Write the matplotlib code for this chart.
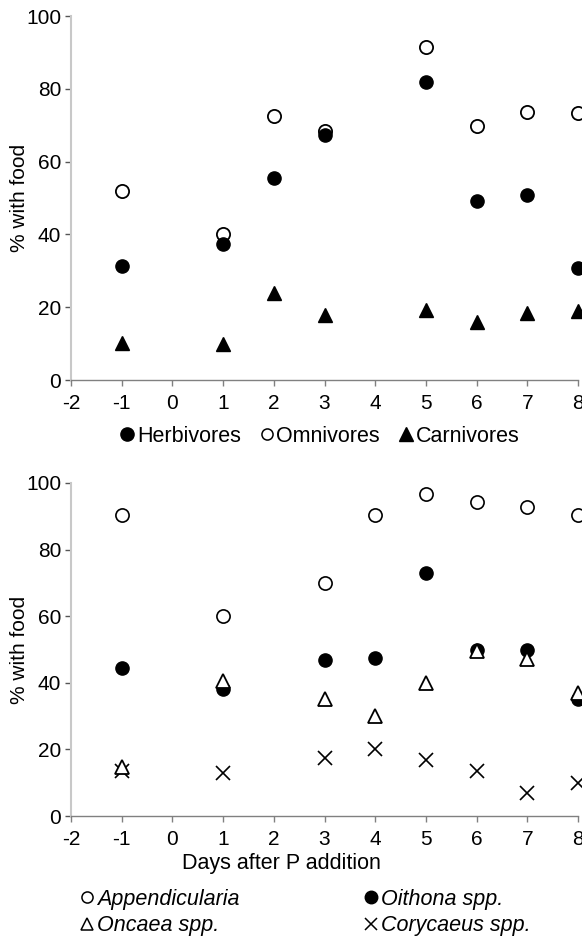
import numpy as np
import matplotlib
matplotlib.use("Agg")
import matplotlib.pyplot as plt
from matplotlib.lines import Line2D

plt.rcParams['font.family'] = ['Liberation Sans', 'DejaVu Sans']
plt.rcParams['font.size'] = 14
plt.rcParams['axes.unicode_minus'] = False

# Top panel: feeding groups
days_top = [-1, 1, 2, 3, 5, 6, 7, 8]
herbivores = [31.4, 37.5, 55.6, 67.3, 82.0, 49.2, 50.9, 30.7]
omnivores = [52.0, 40.1, 72.5, 68.4, 91.4, 69.7, 73.6, 73.3]
carnivores = [10.3, 9.8, 24.0, 17.9, 19.2, 16.0, 18.3, 19.0]

# Bottom panel: taxa
days_bot = [-1, 1, 3, 4, 5, 6, 7, 8]
appendicularia = [90.4, 60.2, 70.1, 90.4, 96.8, 94.2, 92.7, 90.4]
oithona = [44.3, 38.0, 46.7, 47.5, 72.9, 50.0, 50.0, 35.0]
oncaea = [14.7, 40.5, 35.1, 30.1, 40.0, 49.5, 47.0, 37.0]
corycaeus = [13.4, 12.9, 17.4, 20.1, 16.9, 13.4, 6.8, 9.8]

x_ticks = list(range(-2, 9))
y_ticks = [0, 20, 40, 60, 80, 100]

W, H = 582, 936
fig = plt.figure(figsize=(W / 100, H / 100), dpi=100)

ax1 = fig.add_axes([71 / W, 1 - 380 / H, 507 / W, 364 / H])
ax2 = fig.add_axes([71 / W, 1 - 816 / H, 507 / W, 333 / H])


def style_axes(ax):
    """Excel-like axes: grey left/bottom lines only, outward ticks"""
    ax.set_xlim(-2, 8)
    ax.set_ylim(0, 100)
    ax.set_xticks(x_ticks)
    ax.set_yticks(y_ticks)
    for side in ['top', 'right']:
        ax.spines[side].set_visible(False)
    ax.spines['left'].set_color('#c8c8c8')
    ax.spines['left'].set_linewidth(1.5)
    ax.spines['bottom'].set_color('#808080')
    ax.spines['bottom'].set_linewidth(1.0)
    ax.tick_params(axis='x', direction='out', length=4, width=1, color='#808080', pad=6, labelsize=15)
    ax.tick_params(axis='y', direction='out', length=4, width=1, color='#555555', pad=3, labelsize=15)
    ax.set_ylabel('% with food', fontsize=15)
    ax.yaxis.set_label_coords(-0.082, 0.5)


ms = 9.5
# top panel
ax1.plot(days_top, omnivores, 'o', ms=ms, mfc='white', mec='black', mew=1.3, clip_on=False, zorder=3)
ax1.plot(days_top, herbivores, 'o', ms=ms, mfc='black', mec='black', clip_on=False, zorder=4)
ax1.plot(days_top, carnivores, '^', ms=ms + 1, mfc='black', mec='black', clip_on=False, zorder=3)
style_axes(ax1)

# bottom panel
ax2.plot(days_bot, appendicularia, 'o', ms=ms, mfc='white', mec='black', mew=1.2, clip_on=False, zorder=3)
ax2.plot(days_bot, oithona, 'o', ms=ms, mfc='black', mec='black', clip_on=False, zorder=3)
ax2.plot(days_bot, oncaea, '^', ms=ms + 1, mfc='white', mec='black', mew=1.3, clip_on=False, zorder=4)
ax2.plot(days_bot, corycaeus, 'x', ms=ms + 1, mec='black', mew=1.2, clip_on=False, zorder=3)
style_axes(ax2)
ax2.set_xlabel('Days after P addition', fontsize=15.5)
ax2.xaxis.set_label_coords((281 - 71) / 507, -0.112)

# legends
top_handles = [
    Line2D([], [], ls='', marker='o', ms=9.5, mfc='black', mec='black'),
    Line2D([], [], ls='', marker='o', ms=8, mfc='white', mec='black', mew=1.1),
    Line2D([], [], ls='', marker='^', ms=10, mfc='black', mec='black'),
]
fig.legend(top_handles, ['Herbivores', 'Omnivores', 'Carnivores'], ncol=3,
           loc='center', bbox_to_anchor=(320 / W, 1 - 436 / H), frameon=False,
           handlelength=0.6, handletextpad=0.15, columnspacing=0.9, fontsize=15.5)

bot_handles = [
    Line2D([], [], ls='', marker='o', ms=8, mfc='white', mec='black', mew=1.1),
    Line2D([], [], ls='', marker='^', ms=9, mfc='white', mec='black', mew=1.1),
    Line2D([], [], ls='', marker='o', ms=9, mfc='black', mec='black'),
    Line2D([], [], ls='', marker='x', ms=9, mec='black', mew=1.1),
]
leg = fig.legend(bot_handles, ['Appendicularia', 'Oncaea spp.', 'Oithona spp.', 'Corycaeus spp.'],
                 ncol=2, loc='upper left', bbox_to_anchor=(81 / W, 1 - 889 / H), frameon=False,
                 handlelength=0.6, handletextpad=0.15, columnspacing=5.8, labelspacing=0.25,
                 fontsize=15.5, borderaxespad=0, borderpad=0)
for t in leg.get_texts():
    t.set_style('italic')

fig.savefig('out.png', dpi=100)
